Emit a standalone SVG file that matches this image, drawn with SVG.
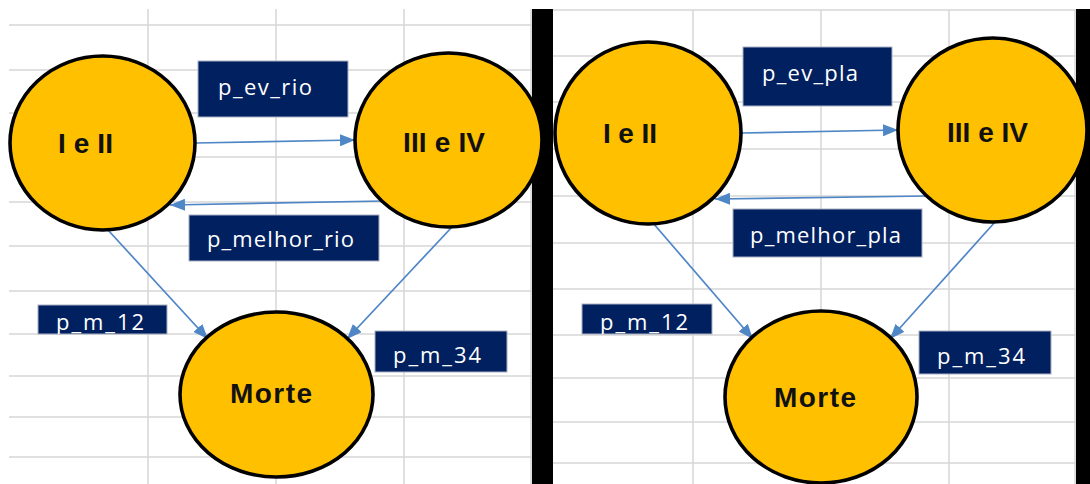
<svg xmlns="http://www.w3.org/2000/svg" width="1090" height="484" viewBox="0 0 1090 484">
  <style>
    .grid { stroke: #d6d6d6; stroke-width: 1.5; fill: none; }
    .bar { fill: #000000; }
    .state { fill: #ffc000; stroke: #000000; stroke-width: 3.6; }
    .state-text { font-family: "Liberation Sans", Arial, sans-serif; font-weight: bold; font-size: 28px; fill: #111111; }
    .tag { fill: #002060; stroke: #a9b0c2; stroke-width: 1; }
    .tag-text { font-family: "Open Sans", "Liberation Sans", Arial, sans-serif; font-size: 22px; fill: #ffffff; }
    .edge { stroke: #4f86c6; stroke-width: 1.7; fill: none; marker-end: url(#arrow); }
  </style>
  <defs>
    <marker id="arrow" markerUnits="userSpaceOnUse" markerWidth="15" markerHeight="12" refX="15" refY="6" orient="auto">
      <path d="M0,0 L15,6 L0,12 z" fill="#4f86c6"/>
    </marker>
    <clipPath id="clip-m12-left"><rect x="38" y="305" width="129" height="29"/></clipPath>
    <clipPath id="clip-m12-right"><rect x="582" y="304" width="130" height="30"/></clipPath>
  </defs>

  <rect x="0" y="0" width="1090" height="484" fill="#ffffff"/>

  <!-- spreadsheet grid, left sheet -->
  <g id="grid-left" class="grid">
    <path d="M9,25 H532 M9,70 H532 M9,113 H532 M9,157 H532 M9,202 H532 M9,246 H532 M9,291 H532 M9,334 H532 M9,376 H532 M9,417 H532 M9,457 H532"/>
    <path d="M148,9 V484 M276,9 V484 M404,9 V484 M531,9 V484"/>
  </g>
  <!-- spreadsheet grid, right sheet -->
  <g id="grid-right" class="grid">
    <path d="M553,10 H1076 M553,56 H1076 M553,102 H1076 M553,149 H1076 M553,196 H1076 M553,243 H1076 M553,289 H1076 M553,335 H1076 M553,378 H1076 M553,422 H1076 M553,463 H1076"/>
    <path d="M693,10 V484 M821,10 V484 M949,10 V484 M1075,10 V484"/>
  </g>

  <!-- dark separators -->
  <rect class="bar" x="532" y="9" width="21" height="475"/>
  <rect class="bar" x="1076" y="9" width="14" height="475"/>

  <!-- transitions -->
  <g id="connectors">
    <path class="edge" d="M196,143 L355,140"/>
    <path class="edge" d="M383,201 L170,205"/>
    <path class="edge" d="M108,230 L208,339"/>
    <path class="edge" d="M452,227 L347,339"/>
    <path class="edge" d="M741,133 L898,130"/>
    <path class="edge" d="M927,196 L715,199"/>
    <path class="edge" d="M653,223 L753,339"/>
    <path class="edge" d="M995,222 L890,339"/>
  </g>

  <!-- left sheet: states -->
  <g id="left-i-e-ii">
    <ellipse class="state" cx="102.5" cy="143" rx="92.5" ry="87"/>
    <text class="state-text" x="58" y="153" textLength="55" lengthAdjust="spacing">I e II</text>
  </g>
  <g id="left-iii-e-iv">
    <ellipse class="state" cx="448.5" cy="140" rx="93.5" ry="87"/>
    <text class="state-text" x="403" y="152" textLength="82" lengthAdjust="spacing">III e IV</text>
  </g>
  <g id="left-morte">
    <ellipse class="state" cx="276.5" cy="394.5" rx="96.5" ry="82.5"/>
    <text class="state-text" x="230" y="403" textLength="82" lengthAdjust="spacing">Morte</text>
  </g>

  <!-- left sheet: probability tags -->
  <g id="left-p-ev-rio">
    <rect class="tag" x="198" y="61" width="150" height="56"/>
    <text class="tag-text" x="218" y="95" textLength="94" lengthAdjust="spacing">p_ev_rio</text>
  </g>
  <g id="left-p-melhor-rio">
    <rect class="tag" x="189" y="215" width="190" height="46"/>
    <text class="tag-text" x="207" y="247" textLength="147" lengthAdjust="spacing">p_melhor_rio</text>
  </g>
  <g id="left-p-m-12">
    <rect class="tag" x="38" y="305" width="129" height="29"/>
    <text class="tag-text" x="56" y="330" textLength="88" lengthAdjust="spacing" clip-path="url(#clip-m12-left)">p_m_12</text>
  </g>
  <g id="left-p-m-34">
    <rect class="tag" x="375" y="331" width="132" height="41"/>
    <text class="tag-text" x="393" y="363" textLength="88" lengthAdjust="spacing">p_m_34</text>
  </g>

  <!-- right sheet: states -->
  <g id="right-i-e-ii">
    <ellipse class="state" cx="648" cy="133" rx="93" ry="91"/>
    <text class="state-text" x="603" y="143" textLength="54" lengthAdjust="spacing">I e II</text>
  </g>
  <g id="right-iii-e-iv">
    <ellipse class="state" cx="992.5" cy="130" rx="94.5" ry="92"/>
    <text class="state-text" x="947" y="142" textLength="81" lengthAdjust="spacing">III e IV</text>
  </g>
  <g id="right-morte">
    <ellipse class="state" cx="821" cy="397" rx="96" ry="86"/>
    <text class="state-text" x="774" y="407" textLength="82" lengthAdjust="spacing">Morte</text>
  </g>

  <!-- right sheet: probability tags -->
  <g id="right-p-ev-pla">
    <rect class="tag" x="743" y="47" width="149" height="59"/>
    <text class="tag-text" x="762" y="81" textLength="96" lengthAdjust="spacing">p_ev_pla</text>
  </g>
  <g id="right-p-melhor-pla">
    <rect class="tag" x="733" y="209" width="189" height="48"/>
    <text class="tag-text" x="750" y="243" textLength="151" lengthAdjust="spacing">p_melhor_pla</text>
  </g>
  <g id="right-p-m-12">
    <rect class="tag" x="582" y="304" width="130" height="30"/>
    <text class="tag-text" x="600" y="330" textLength="88" lengthAdjust="spacing" clip-path="url(#clip-m12-right)">p_m_12</text>
  </g>
  <g id="right-p-m-34">
    <rect class="tag" x="919" y="331" width="132" height="43"/>
    <text class="tag-text" x="937" y="364" textLength="88" lengthAdjust="spacing">p_m_34</text>
  </g>
</svg>
